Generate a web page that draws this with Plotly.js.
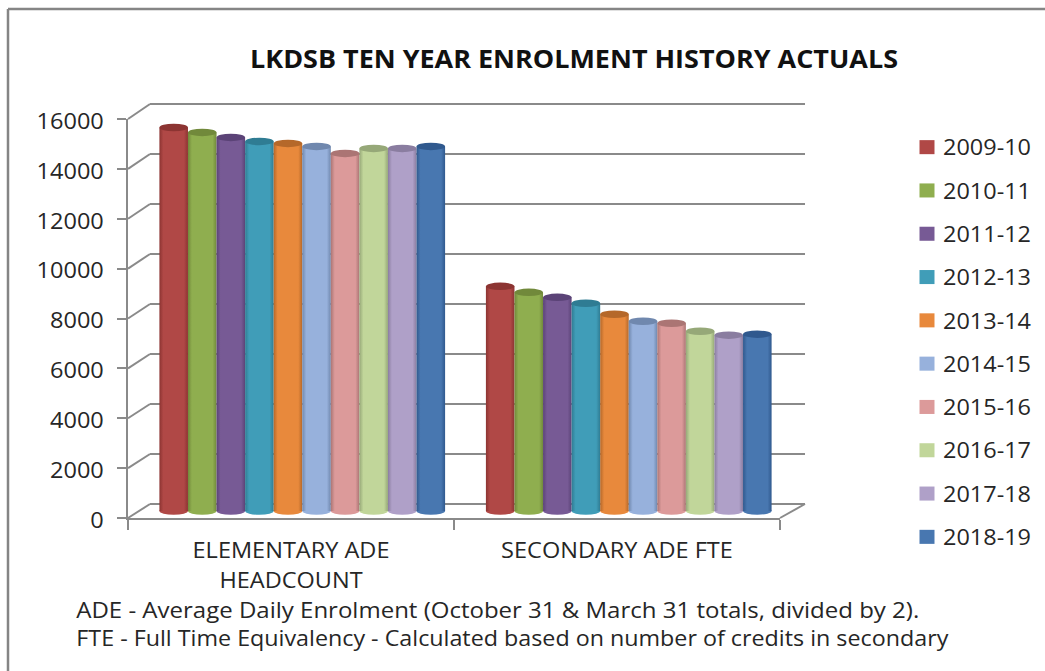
<!DOCTYPE html>
<html>
<head>
<meta charset="utf-8">
<script src="https://cdn.plot.ly/plotly-3.0.1.min.js"></script>
<style>html,body{margin:0;padding:0;background:#fff}#chart{width:1045px;height:671px}</style>
</head>
<body>
<div id="chart"></div>
<script>
const categories = ['ELEMENTARY ADE<br>HEADCOUNT', 'SECONDARY ADE FTE'];
const years = ['2009-10','2010-11','2011-12','2012-13','2013-14','2014-15','2015-16','2016-17','2017-18','2018-19'];
const elementary = [15360,15160,14960,14800,14720,14600,14320,14520,14520,14600];
const secondary  = [9000,8760,8560,8320,7880,7600,7520,7200,7040,7080];
const colors = ['#B04846','#8FAE4F','#775A95','#409DB8','#E8893C','#97B1DC','#DC9A9A','#C1D69A','#AFA0C8','#4877B0'];
const darks  = ['#8C3432','#71893B','#5B4377','#2F7C93','#B5682A','#7088AE','#AB7574','#96A878','#8A7DA0','#30598E'];
const yTicks = [0,2000,4000,6000,8000,10000,12000,14000,16000];
const yLabels = ['0','2000','4000','6000','8000','10000','12000','14000','16000'];
const footnotes = ['ADE - Average Daily Enrolment (October 31 &amp; March 31 totals, divided by 2).',
                   'FTE - Full Time Equivalency - Calculated based on number of credits in secondary'];
const titleText = 'LKDSB TEN YEAR ENROLMENT HISTORY ACTUALS';

const W = 1045, H = 671;
const fx = p => p / W, fy = p => 1 - p / H;
const GRID = '#8a8a8a', INK = '#262626';
const FONT = '"Open Sans", "Noto Sans", sans-serif';
const yMax = 16000, yPad = 400;
const barGap = 0.125;
const nS = years.length;
const bw = (1 - barGap) / nS;

const traces = years.map((y, i) => ({
  type: 'bar', name: y, x: [0, 1], y: [elementary[i], secondary[i]],
  xaxis: 'x2', yaxis: 'y2', marker: {color: colors[i], line: {width: 0}},
  legendgroup: y, hoverinfo: 'skip'
}));
// empty traces so that the wall and front axes are drawn
traces.unshift({type:'scatter', mode:'none', x:[0], y:[0], xaxis:'x', yaxis:'y', showlegend:false, hoverinfo:'skip'});
traces.push({type:'scatter', mode:'none', x:[0], y:[0], xaxis:'x3', yaxis:'y3', showlegend:false, hoverinfo:'skip'});

const shapes = [];
// outer frame: top and left only
[[8,9,1045,9],[8,9,8,671]].forEach(s => shapes.push({
  type:'line', xref:'paper', yref:'paper', x0:fx(s[0]), y0:fy(s[1]), x1:fx(s[2]), y1:fy(s[3]),
  line:{color:'#858585', width:2.5}, layer:'below'}));
// side wall and floor edges
yTicks.forEach(t => {
  const f = t / yMax;
  shapes.push({type:'line', xref:'paper', yref:'paper',
    x0:fx(128), y0:fy(518 - 399*f), x1:fx(150), y1:fy(504 - 400*f),
    line:{color:GRID, width:2}, layer:'below'});
});
shapes.push({type:'line', xref:'paper', yref:'paper', x0:fx(780), y0:fy(518), x1:fx(805), y1:fy(504),
  line:{color:GRID, width:2}, layer:'below'});
// cylinder ends
years.forEach((y, i) => {
  [0, 1].forEach(c => {
    const left = c - (1 - barGap) / 2 + i * bw;
    shapes.push({type:'circle', xref:'x2', yref:'y2', x0:left, x1:left + bw, y0:-150, y1:150,
      fillcolor:colors[i], line:{width:0}, layer:'below'});
    const v = c === 0 ? elementary[i] : secondary[i];
    shapes.push({type:'circle', xref:'x2', yref:'y2', x0:left, x1:left + bw, y0:v - 150, y1:v + 150,
      fillcolor:darks[i], line:{width:0}, layer:'above'});
  });
});

const footLeft = 76, footWidths = [843, 872], footY = [610, 638];

const layout = {
  width: W, height: H, margin: {l:0, r:0, t:0, b:0, pad:0},
  paper_bgcolor:'#fff', plot_bgcolor:'rgba(0,0,0,0)',
  font:{family:FONT, color:INK, size:21},
  title:{text:'<b>' + titleText + '</b>', font:{family:FONT, size:25, color:'#111'},
         x:574/W, xanchor:'center', y:fy(59), yanchor:'middle'},
  barmode:'group', bargap:barGap, bargroupgap:0,
  showlegend:true,
  legend:{x:fx(903), xanchor:'left', y:fy(127), yanchor:'top', bgcolor:'rgba(0,0,0,0)',
    font:{family:FONT, size:21, color:INK}, tracegroupgap:13, itemwidth:30, traceorder:'grouped',
    entrywidth:112, entrywidthmode:'pixels'},
  // back wall (range runs past 16000 so that the top gridline is kept)
  xaxis:{domain:[fx(150), fx(805)], range:[0,1], visible:false, fixedrange:true},
  yaxis:{domain:[fy(504), fy(94)], range:[0,yMax + yPad], anchor:'x', tickmode:'array', tickvals:yTicks, showticklabels:false,
         ticks:'', showgrid:true, gridcolor:GRID, gridwidth:2, zeroline:true, zerolinecolor:GRID, zerolinewidth:2,
         showline:false, fixedrange:true},
  // mid-depth plane with the cylinders
  xaxis2:{domain:[fx(139), fx(792)], range:[-0.5,1.5], visible:false, anchor:'y2', fixedrange:true},
  yaxis2:{domain:[fy(511 + yPad/40), fy(111.5)], range:[-yPad,yMax], visible:false, anchor:'x2', fixedrange:true},
  // front axes with labels
  xaxis3:{domain:[fx(128), fx(780)], range:[0,2], anchor:'y3', tickmode:'array', tickvals:[0.5,1.5], ticktext:categories,
          ticks:'', ticklen:0, tickangle:0, showgrid:false, zeroline:false, showline:true, linecolor:GRID, linewidth:2,
          tickfont:{family:FONT, size:21, color:INK}, ticklabelstandoff:13,
          minor:{tickmode:'array', tickvals:[0,1,2], ticks:'outside', ticklen:10, tickwidth:2, tickcolor:GRID, showgrid:false},
          fixedrange:true},
  yaxis3:{domain:[fy(518), fy(119)], range:[0,yMax], anchor:'x3', tickmode:'array', tickvals:yTicks, ticktext:yLabels, ticks:'outside',
          ticklen:9, tickwidth:2, tickcolor:GRID, showgrid:false, zeroline:false, showline:true, linecolor:GRID, linewidth:2,
          tickfont:{family:FONT, size:21, color:INK}, ticklabelstandoff:9, fixedrange:true},
  shapes: shapes,
  annotations: footnotes.map((t, i) => ({
    xref:'paper', yref:'paper', x:fx(footLeft + footWidths[i]/2), y:fy(footY[i]), xanchor:'center', yanchor:'middle',
    text:t, showarrow:false, font:{family:FONT, size:21, color:INK}
  }))
};

const stretchTo = (el, w) => {
  el.setAttribute('textLength', w);
  el.setAttribute('lengthAdjust', 'spacingAndGlyphs');
};
const widen = (el, k) => stretchTo(el, el.getComputedTextLength() * k);

function finish(gd) {
  const svg = gd.querySelector('.main-svg');
  if (!svg.querySelector('#cylDefs')) {
    const defs = document.createElementNS('http://www.w3.org/2000/svg', 'defs');
    defs.id = 'cylDefs';
    colors.forEach((c, i) => {
      const g = document.createElementNS('http://www.w3.org/2000/svg', 'linearGradient');
      g.id = 'cyl' + i;
      [[0, darks[i]], [0.14, colors[i]], [0.5, colors[i]], [0.86, colors[i]], [1, darks[i]]].forEach(s => {
        const st = document.createElementNS('http://www.w3.org/2000/svg', 'stop');
        st.setAttribute('offset', s[0]);
        st.setAttribute('stop-color', s[1]);
        g.appendChild(st);
      });
      defs.appendChild(g);
    });
    svg.insertBefore(defs, svg.firstChild);
  }
  gd.querySelectorAll('.barlayer .trace.bars').forEach((tr, i) => {
    tr.querySelectorAll('.point path').forEach(p => { p.style.fill = 'url(#cyl' + i + ')'; });
  });
  // the reference text is horizontally stretched
  gd.querySelectorAll('.legendtext').forEach(t => stretchTo(t, 88));
  gd.querySelectorAll('.legend .scrollbox').forEach(s => { s.removeAttribute('clip-path'); s.style.clipPath = 'none'; });
  gd.querySelectorAll('.legendpoints path').forEach(p => p.setAttribute('transform', 'translate(24,0) scale(1.25,1.17)'));
  gd.querySelectorAll('.y3tick text').forEach(t => {
    widen(t, 1.12);
    t.setAttribute('y', parseFloat(t.getAttribute('y')) + 2.5);
  });
  gd.querySelectorAll('.x3tick text').forEach(t => {
    const lines = t.querySelectorAll('tspan.line');
    if (lines.length) lines.forEach((l, i) => { widen(l, 1.12); if (i) l.setAttribute('dy', '1.43em'); });
    else widen(t, 1.12);
  });
  gd.querySelectorAll('.annotation-text').forEach((t, i) => stretchTo(t, footWidths[i]));
  const ttl = gd.querySelector('.gtitle');
  if (ttl) stretchTo(ttl, 648);
}

Plotly.newPlot('chart', traces, layout, {displayModeBar:false, staticPlot:true}).then(gd => {
  finish(gd);
});
</script>
</body>
</html>
